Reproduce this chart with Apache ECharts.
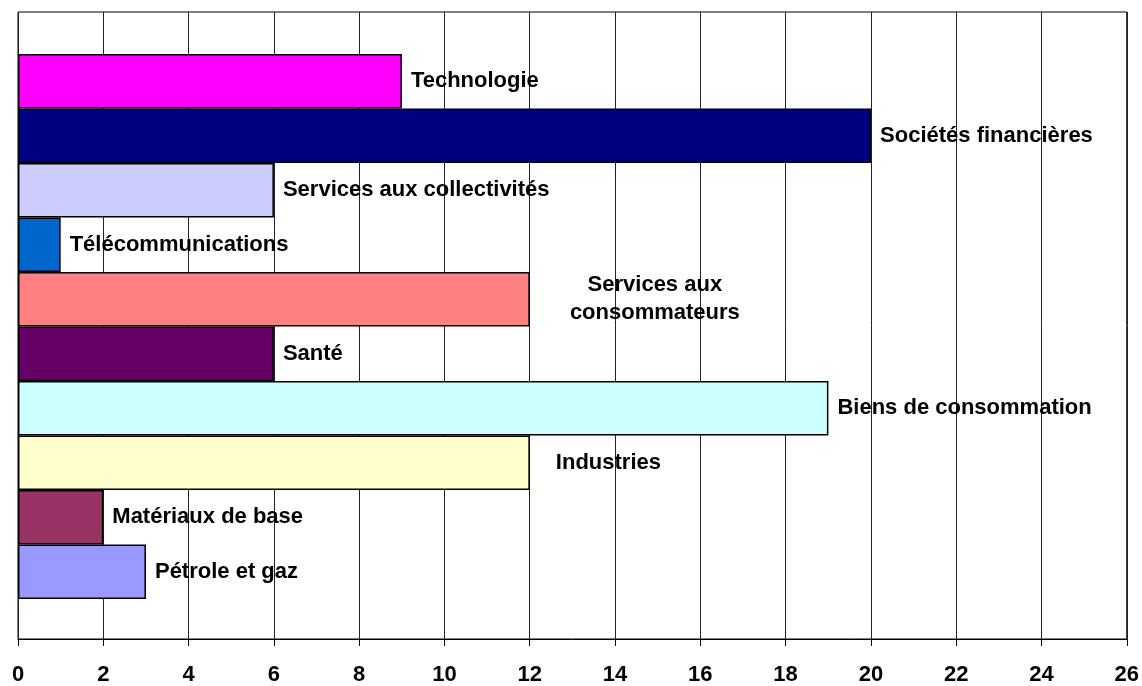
<!DOCTYPE html>
<html>
<head>
<meta charset="utf-8">
<style>
  html, body { margin: 0; padding: 0; background: #fff; }
  #chart { width: 1142px; height: 686px; }
</style>
<script src="https://cdn.jsdelivr.net/npm/echarts@6/dist/echarts.min.js"></script>
</head>
<body>
<div id="chart"></div>
<script>
// secteurs, de haut en bas
var categories = [
  "Technologie",
  "Sociétés financières",
  "Services aux collectivités",
  "Télécommunications",
  "Services aux consommateurs",
  "Santé",
  "Biens de consommation",
  "Industries",
  "Matériaux de base",
  "Pétrole et gaz"
];
var values = [9, 20, 6, 1, 12, 6, 19, 12, 2, 3];
var xTicks = [0, 2, 4, 6, 8, 10, 12, 14, 16, 18, 20, 22, 24, 26];

// couleurs (palette Excel)
var colors = ["#FF00FF", "#000080", "#CCCCFF", "#0066CC", "#FF8080",
              "#660066", "#CCFFFF", "#FFFFCC", "#993366", "#9999FF"];

var font = "'Liberation Sans', Arial, sans-serif";

var chart = echarts.init(document.getElementById("chart"));

var items = categories.map(function (name, i) {
  var label = {};
  if (name === "Services aux consommateurs") {
    label = { formatter: "Services aux\nconsommateurs", align: "center", distance: 125, lineHeight: 28 };
  } else if (name === "Industries") {
    label = { distance: 26 };
  }
  return {
    value: values[i],
    itemStyle: { color: colors[i] },
    label: label
  };
});

chart.setOption({
  animation: false,
  backgroundColor: "#fff",
  grid: [
    { left: 18, right: 15, top: 12, bottom: 47, show: true, borderColor: "#000", borderWidth: 1, backgroundColor: "#fff" },
    { left: 18, right: 15, top: 54, bottom: 87 }
  ],
  xAxis: [
    {
      gridIndex: 0,
      type: "value",
      min: xTicks[0],
      max: xTicks[xTicks.length - 1],
      interval: 2,
      axisLine: { show: true, lineStyle: { color: "#000", width: 1 } },
      axisTick: { show: true, length: 7, lineStyle: { color: "#000" } },
      splitLine: { show: true, lineStyle: { color: "#222", width: 1 } },
      axisLabel: { color: "#000", fontSize: 22, fontWeight: "bold", fontFamily: font, margin: 25 }
    },
    {
      gridIndex: 1,
      type: "value",
      min: xTicks[0],
      max: xTicks[xTicks.length - 1],
      show: false
    }
  ],
  yAxis: [
    { gridIndex: 0, type: "value", show: false },
    {
      gridIndex: 1,
      type: "category",
      inverse: true,
      data: categories,
      show: false
    }
  ],
  series: [
    {
      type: "bar",
      xAxisIndex: 1,
      yAxisIndex: 1,
      barCategoryGap: "0%",
      data: items,
      itemStyle: { borderColor: "#000", borderWidth: 1.5 },
      label: {
        show: true,
        position: "right",
        distance: 9,
        formatter: "{b}",
        color: "#000",
        fontSize: 22,
        fontWeight: "bold",
        fontFamily: font
      }
    }
  ]
});
</script>
</body>
</html>
